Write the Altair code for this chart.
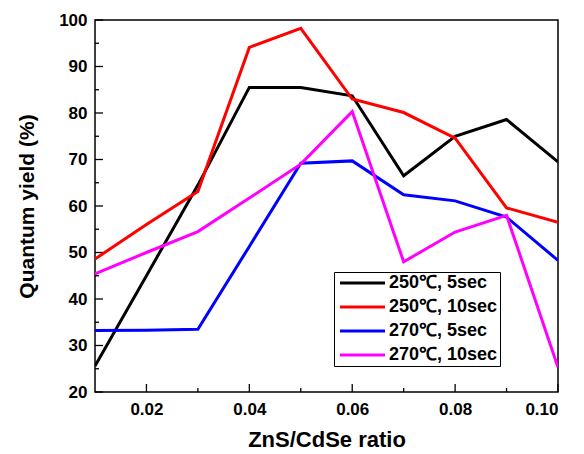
import altair as alt
import pandas as pd

ratio = [0.01, 0.02, 0.03, 0.04, 0.05, 0.06, 0.07, 0.08, 0.09, 0.10]
series = ["250℃, 5sec", "250℃, 10sec", "270℃, 5sec", "270℃, 10sec"]
colors = ["#000000", "#FF0000", "#0000FF", "#FF00FF"]
qy_250_5 = [25.6, 45.0, 64.5, 85.5, 85.5, 83.7, 66.5, 75.0, 78.6, 69.5]
qy_250_10 = [48.6, 56.0, 63.1, 94.1, 98.2, 83.0, 80.1, 74.6, 59.6, 56.5]
qy_270_5 = [33.2, 33.3, 33.5, 51.3, 69.2, 69.7, 62.4, 61.1, 57.6, 48.3]
qy_270_10 = [45.4, 50.0, 54.5, 61.7, 69.0, 80.3, 48.0, 54.4, 58.0, 25.3]

y_major = [20, 30, 40, 50, 60, 70, 80, 90, 100]
y_minor = [25, 35, 45, 55, 65, 75, 85, 95]
x_major = [0.02, 0.04, 0.06, 0.08, 0.10]
x_minor = [0.03, 0.05, 0.07, 0.09]

rows = []
for name, vals in zip(series, [qy_250_5, qy_250_10, qy_270_5, qy_270_10]):
    for xv, yv in zip(ratio, vals):
        rows.append({"series": name, "ratio": xv, "qy": yv})
df = pd.DataFrame(rows)

FONT = "Liberation Sans"
xs = alt.Scale(domain=[0.01, 0.10], nice=False, zero=False)
ys = alt.Scale(domain=[20, 100], nice=False, zero=False)

lines = alt.Chart(df).mark_line(strokeWidth=3, clip=True).encode(
    x=alt.X("ratio:Q", scale=xs, title="ZnS/CdSe ratio",
            axis=alt.Axis(values=x_major, format=".2f", ticks=False, domain=False, grid=False,
                          labelFontSize=17, labelFontWeight="bold", labelFont=FONT, labelColor="black",
                          labelPadding=9, titleFontSize=22, titleFont=FONT, titleFontWeight="bold",
                          titleColor="black", titlePadding=12)),
    y=alt.Y("qy:Q", scale=ys, title="Quantum yield (%)",
            axis=alt.Axis(values=y_major, ticks=False, domain=False, grid=False,
                          labelFontSize=17, labelFontWeight="bold", labelFont=FONT, labelColor="black",
                          labelPadding=8, titleFontSize=21, titleFont=FONT, titleFontWeight="bold",
                          titleColor="black", titlePadding=21)),
    color=alt.Color("series:N", scale=alt.Scale(domain=series, range=colors),
                    legend=alt.Legend(title=None, orient="none", legendX=239, legendY=252,
                                      symbolType="M-1,0H8", symbolSize=100, symbolStrokeWidth=3,
                                      labelFontSize=18, labelFont=FONT, labelFontWeight="bold",
                                      labelColor="black", strokeColor="black", padding=2,
                                      rowPadding=6, labelOffset=35, fillColor="white")),
    detail="series:N",
)

ymaj = alt.Chart(pd.DataFrame({"v": y_major})).mark_rule(color="black", strokeWidth=1.3).encode(
    y=alt.Y("v:Q", scale=ys), x=alt.value(0), x2=alt.value(8))
ymin = alt.Chart(pd.DataFrame({"v": y_minor})).mark_rule(color="black", strokeWidth=1.3).encode(
    y=alt.Y("v:Q", scale=ys), x=alt.value(0), x2=alt.value(4))
xmaj = alt.Chart(pd.DataFrame({"v": x_major})).mark_rule(color="black", strokeWidth=1.3).encode(
    x=alt.X("v:Q", scale=xs), y=alt.value(372), y2=alt.value(364))
xmin = alt.Chart(pd.DataFrame({"v": x_minor})).mark_rule(color="black", strokeWidth=1.3).encode(
    x=alt.X("v:Q", scale=xs), y=alt.value(372), y2=alt.value(368))

chart = alt.layer(ymaj, ymin, xmaj, xmin, lines).properties(
    width=463, height=372,
    autosize=alt.AutoSizeParams(type="none"),
    padding={"left": 87, "top": 12, "right": 18, "bottom": 60},
    background="white",
).configure_view(stroke="black", strokeWidth=1.5)

chart.save("out.html", embed_options={"renderer": "svg", "actions": False})
